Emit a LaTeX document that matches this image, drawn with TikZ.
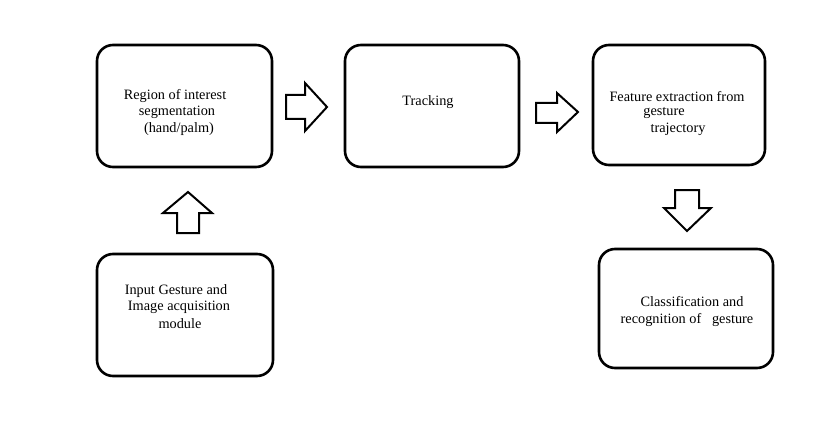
\documentclass[tikz,border=0pt]{standalone}
\usepackage{fontspec}
\setmainfont{Liberation Serif}
\begin{document}
\begin{tikzpicture}[x=1pt,y=-1pt,
  box/.style={draw=black,line width=2.6pt,rounded corners=16pt},
  blockarrow/.style={draw=black,line width=2pt,fill=white,line join=miter},
  lbl/.style={inner sep=0pt,font=\fontsize{14.3}{16}\selectfont,anchor=center}]
\useasboundingbox (0,0) rectangle (830,441);
% boxes
\draw[box] (97,45) rectangle (272,167);
\draw[box] (345,45) rectangle (519,167);
\draw[box] (593,45) rectangle (765,165);
\draw[box] (97,254) rectangle (273,376);
\draw[box] (599,249) rectangle (773,368);
% texts
\node[lbl] (t1) at (175,96) {Region of interest};
\node[lbl] (t2) at (177,112) {segmentation};
\node[lbl] (t3) at (179,129) {(hand/palm)};
\node[lbl] (t4) at (428,102) {Tracking};
\node[lbl] (t5) at (677,97) {Feature extraction from};
\node[lbl] (t6) at (664,113) {gesture};
\node[lbl] (t7) at (678,129) {trajectory};
\node[lbl] (t8) at (176,291) {Input Gesture and};
\node[lbl] (t9) at (179,307) {Image acquisition};
\node[lbl] (t10) at (180,324) {module};
\node[lbl] (t11) at (692,302) {Classification and};
\node[lbl] (t12) at (687,320) {recognition of\ \ \ gesture};
% block arrows
\draw[blockarrow] (286,95) -- (305,95) -- (305,83) -- (327,107) -- (305,131) -- (305,119) -- (286,119) -- cycle;
\draw[blockarrow] (536,103) -- (557,103) -- (557,93) -- (578,112) -- (557,132) -- (557,123) -- (536,123) -- cycle;
\draw[blockarrow] (177,233) -- (177,213) -- (163,213) -- (188,192) -- (212,213) -- (199,213) -- (199,233) -- cycle;
\draw[blockarrow] (675,190) -- (699,190) -- (699,208) -- (711,208) -- (687,231) -- (664,208) -- (675,208) -- cycle;
\end{tikzpicture}
\end{document}
